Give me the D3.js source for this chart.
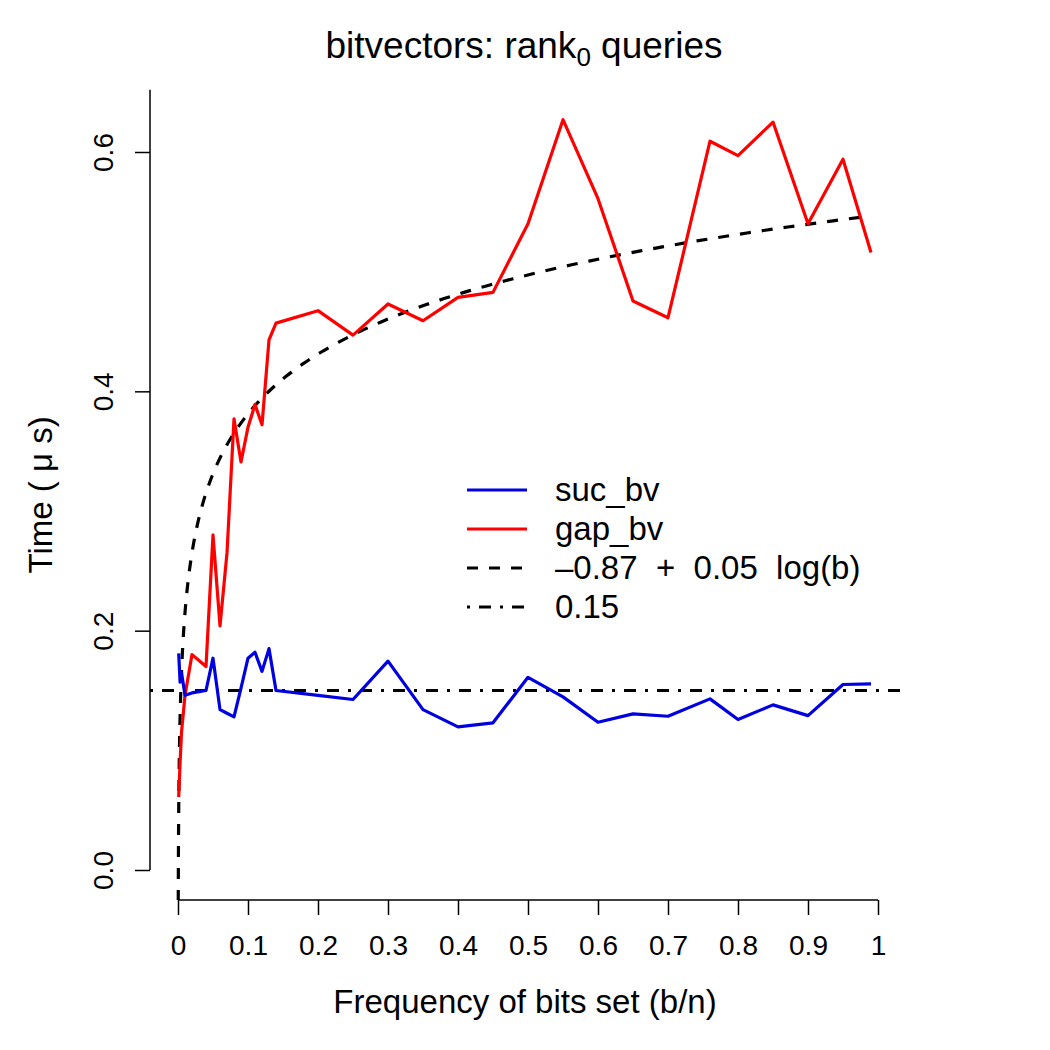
<!DOCTYPE html>
<html>
<head>
<meta charset="utf-8">
<script src="https://cdn.jsdelivr.net/npm/d3@7"></script>
<style>
  body { margin: 0; background: #fff; }
  text { font-family: "Liberation Sans", Arial, Helvetica, sans-serif; fill: #000; }
</style>
</head>
<body>
<div id="chart"></div>
<script>
// fraction of bits set (b/n)
const freq = [0.001, 0.003, 0.005, 0.01, 0.02, 0.03, 0.04, 0.05, 0.06, 0.07, 0.08, 0.09,
  0.1, 0.11, 0.12, 0.13, 0.14, 0.2, 0.25, 0.3, 0.35, 0.4, 0.45, 0.5, 0.55, 0.6, 0.65,
  0.7, 0.76, 0.8, 0.85, 0.9, 0.95, 0.99];

// time in microseconds
const sucBv = [0.181, 0.157, 0.165, 0.146, 0.148, 0.149, 0.150, 0.177, 0.134, 0.131, 0.128, 0.152,
  0.177, 0.182, 0.166, 0.185, 0.150, 0.146, 0.1425, 0.1745, 0.134, 0.1196, 0.123, 0.161, 0.1447,
  0.1235, 0.1305, 0.1285, 0.143, 0.1258, 0.138, 0.129, 0.155, 0.1556];

const gapBv = [0.061, 0.09, 0.115, 0.146, 0.180, 0.175, 0.170, 0.280, 0.204, 0.265, 0.377, 0.341,
  0.370, 0.389, 0.372, 0.443, 0.457, 0.4674, 0.447, 0.473, 0.459, 0.4785, 0.4827, 0.540, 0.627,
  0.561, 0.4755, 0.4615, 0.609, 0.597, 0.625, 0.540, 0.594, 0.516];

// fitted model -0.87 + 0.05 log(b), b = (b/n) * n
const FIT_INTERCEPT = -0.87, FIT_SLOPE = 0.05, N_BITS = 3.41e8;
const CONST_LEVEL = 0.15;

const xTicks = [0, 0.1, 0.2, 0.3, 0.4, 0.5, 0.6, 0.7, 0.8, 0.9, 1];
const yTicks = [0, 0.2, 0.4, 0.6];

const legendLabels = ["suc_bv", "gap_bv", "\u20130.87  +  0.05  log(b)", "0.15"];
const legendColors = ["#0000e0", "#ff0000", "#000", "#000"];
const legendDashes = [null, null, "11 11", "3 9 12 9"];

const W = 1050, H = 1050;
const FS_TICK = 28, FS_LAB = 33, LW = 3.2;

// plot region follows R's 4% extension of the data range
const x = d3.scaleLinear().domain([0, 1]).range([178, 878]);
const y = d3.scaleLinear().domain([0, 0.6]).range([870, 152]);
const xLim = [-0.04, 1.04], yLim = [-0.0251, 0.652];

const svg = d3.select("#chart").append("svg")
  .attr("width", W).attr("height", H)
  .attr("viewBox", `0 0 ${W} ${H}`);

svg.append("rect").attr("width", W).attr("height", H).attr("fill", "#fff");

svg.append("clipPath").attr("id", "plot-clip")
  .append("rect")
  .attr("x", x(xLim[0])).attr("y", y(yLim[1]))
  .attr("width", x(xLim[1]) - x(xLim[0]))
  .attr("height", y(yLim[0]) - y(yLim[1]));

const plot = svg.append("g").attr("clip-path", "url(#plot-clip)");

// constant reference line
plot.append("line")
  .attr("x1", x(xLim[0])).attr("x2", x(xLim[1]))
  .attr("y1", y(CONST_LEVEL)).attr("y2", y(CONST_LEVEL))
  .attr("stroke", "#000").attr("stroke-width", LW)
  .attr("stroke-dasharray", legendDashes[3]);

// fitted log curve
const fitX = d3.range(-5, Math.log10(0.99) + 1e-9, 0.01).map(e => Math.pow(10, e));
const fitLine = d3.line()
  .x(d => x(d))
  .y(d => y(FIT_INTERCEPT + FIT_SLOPE * Math.log2(d * N_BITS)));
plot.append("path")
  .datum(fitX)
  .attr("d", fitLine)
  .attr("fill", "none")
  .attr("stroke", "#000").attr("stroke-width", LW)
  .attr("stroke-dasharray", legendDashes[2]);

const series = [
  { values: gapBv, color: legendColors[1] },
  { values: sucBv, color: legendColors[0] }
];
const seriesLine = d3.line().x(d => x(d[0])).y(d => y(d[1]));
series.forEach(s => {
  plot.append("path")
    .datum(freq.map((f, i) => [f, s.values[i]]))
    .attr("d", seriesLine)
    .attr("fill", "none")
    .attr("stroke", s.color)
    .attr("stroke-width", LW)
    .attr("stroke-linejoin", "round");
});

// x axis
const xAxis = svg.append("g").attr("transform", `translate(0,${y(yLim[0])})`)
  .call(d3.axisBottom(x).tickValues(xTicks).tickSize(15)
    .tickFormat(d => d3.format("~g")(d)));
xAxis.select(".domain").remove();
xAxis.append("line")
  .attr("x1", x(0)).attr("x2", x(1))
  .attr("stroke", "#000").attr("stroke-width", 1.5);
xAxis.selectAll(".tick line").attr("stroke", "#000").attr("stroke-width", 1.5);
xAxis.selectAll(".tick text")
  .attr("font-size", FS_TICK).attr("font-family", null)
  .attr("dy", null).attr("y", 55).style("fill", "#000");

// y axis
const yAxis = svg.append("g").attr("transform", `translate(${x(xLim[0])},0)`)
  .call(d3.axisLeft(y).tickValues(yTicks).tickSize(15).tickFormat(d3.format(".1f")));
yAxis.select(".domain").remove();
yAxis.append("line")
  .attr("y1", y(0)).attr("y2", y(yLim[1]))
  .attr("stroke", "#000").attr("stroke-width", 1.5);
yAxis.selectAll(".tick line").attr("stroke", "#000").attr("stroke-width", 1.5);
yAxis.selectAll(".tick text")
  .attr("font-size", FS_TICK).attr("font-family", null)
  .attr("x", null).attr("dy", null)
  .attr("text-anchor", "middle")
  .attr("transform", "translate(-37,0) rotate(-90)")
  .style("fill", "#000");

// title
const title = svg.append("text")
  .attr("x", 524).attr("y", 58)
  .attr("text-anchor", "middle").attr("font-size", 37);
title.append("tspan").text("bitvectors: rank");
title.append("tspan").attr("font-size", 26).attr("dy", 8).text("0");
title.append("tspan").attr("dy", -8).text(" queries");

// axis labels
svg.append("text")
  .attr("x", 525).attr("y", 1013)
  .attr("text-anchor", "middle").attr("font-size", FS_LAB)
  .text("Frequency of bits set (b/n)");

svg.append("text")
  .attr("transform", `translate(52,${(y(yLim[0]) + y(yLim[1])) / 2}) rotate(-90)`)
  .attr("text-anchor", "middle").attr("font-size", FS_LAB)
  .attr("xml:space", "preserve")
  .text("Time ( \u03bc s)");

// legend
const legend = svg.append("g").attr("transform", "translate(467,490)");
const items = legend.selectAll(".legend-item")
  .data(legendLabels).join("g")
  .attr("class", "legend-item")
  .attr("transform", (d, i) => `translate(0,${i * 39})`);
items.append("line")
  .attr("x1", 0).attr("x2", 60)
  .attr("stroke", (d, i) => legendColors[i])
  .attr("stroke-width", LW)
  .attr("stroke-dasharray", (d, i) => legendDashes[i]);
items.append("text")
  .attr("x", 88).attr("y", 11)
  .attr("font-size", FS_LAB)
  .style("white-space", "pre")
  .text(d => d);
</script>
</body>
</html>
